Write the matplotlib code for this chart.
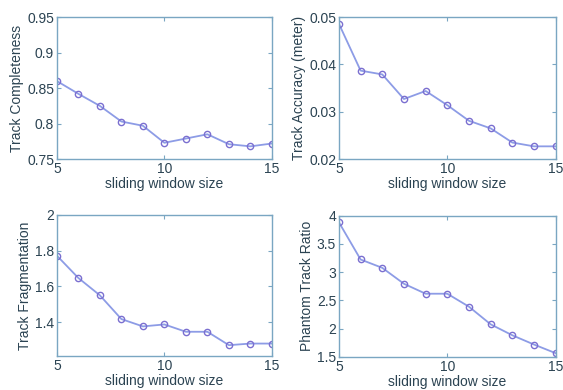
import matplotlib
matplotlib.use("Agg")
import matplotlib.pyplot as plt

window = [5, 6, 7, 8, 9, 10, 11, 12, 13, 14, 15]
completeness = [0.860, 0.842, 0.825, 0.803, 0.797, 0.773, 0.779, 0.785, 0.771, 0.768, 0.772]
accuracy = [0.0486, 0.0387, 0.0379, 0.0327, 0.0344, 0.0314, 0.0281, 0.0265, 0.0235, 0.0227, 0.0227]
fragmentation = [1.772, 1.647, 1.550, 1.417, 1.376, 1.387, 1.346, 1.346, 1.271, 1.280, 1.280]
phantom = [3.882, 3.224, 3.076, 2.794, 2.618, 2.618, 2.388, 2.076, 1.882, 1.718, 1.565]

xticks = [5, 10, 15]
xlabel = "sliding window size"

plt.rcParams['font.family'] = ['Liberation Sans', 'DejaVu Sans']
text_color = '#2b4352'
frame_color = '#7aa6c2'
line_color = '#8d9ce6'
marker_edge = '#7b6fd0'

fig = plt.figure(figsize=(5.63, 3.90), dpi=100)

panels = [
    ([0.101, 0.592, 0.382, 0.364], completeness, "Track Completeness", (0.75, 0.95), [0.75, 0.8, 0.85, 0.9, 0.95], ["0.75", "0.8", "0.85", "0.9", "0.95"]),
    ([0.602, 0.592, 0.385, 0.364], accuracy, "Track Accuracy (meter)", (0.02, 0.05), [0.02, 0.03, 0.04, 0.05], ["0.02", "0.03", "0.04", "0.05"]),
    ([0.101, 0.087, 0.382, 0.362], fragmentation, "Track Fragmentation", (1.21, 2.0), [1.4, 1.6, 1.8, 2.0], ["1.4", "1.6", "1.8", "2"]),
    ([0.602, 0.085, 0.385, 0.362], phantom, "Phantom Track Ratio", (1.5, 4.0), [1.5, 2, 2.5, 3, 3.5, 4], ["1.5", "2", "2.5", "3", "3.5", "4"]),
]

for rect, vals, ylab, ylim, yt, ytl in panels:
    ax = fig.add_axes(rect)
    ax.plot(window, vals, color=line_color, lw=1.3, marker='o', ms=4.5,
            mfc='none', mec=marker_edge, mew=1.0)
    ax.set_xlim(5, 15)
    ax.set_ylim(*ylim)
    ax.set_xticks(xticks)
    ax.set_yticks(yt)
    ax.set_yticklabels(ytl)
    ax.set_xlabel(xlabel, fontsize=10, color=text_color, labelpad=1)
    ax.set_ylabel(ylab, fontsize=10, color=text_color, labelpad=2)
    ax.tick_params(direction='in', length=3, top=True, right=True,
                   labelsize=10, colors=frame_color, labelcolor=text_color, pad=2)
    for s in ax.spines.values():
        s.set_color(frame_color)
        s.set_linewidth(1.0)

fig.savefig("out.png", dpi=100)
